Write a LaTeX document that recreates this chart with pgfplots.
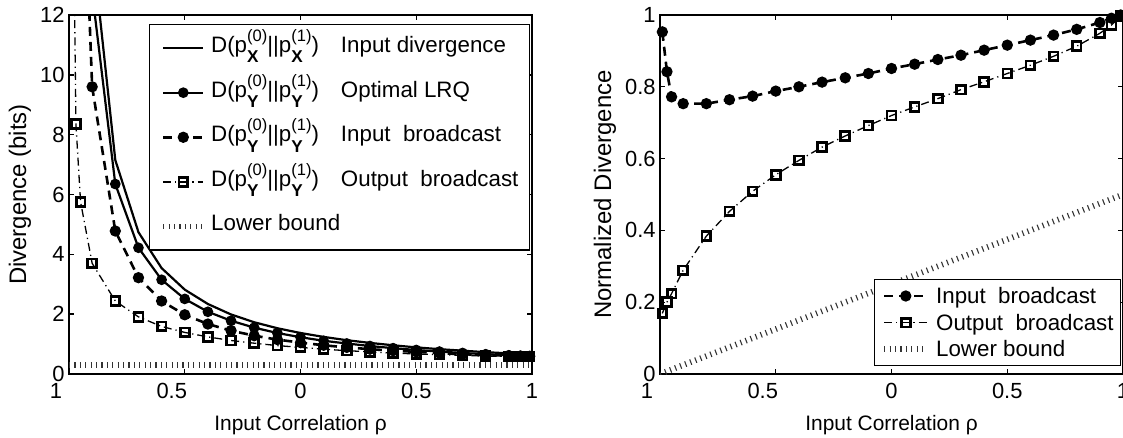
\documentclass[border=0pt]{standalone}
\usepackage{fontspec}
\setmainfont{Liberation Sans}
\usepackage{pgfplots}
\usepackage{pgfplotstable}
\pgfplotsset{compat=1.18}

\newcommand{\supsub}[2]{\rlap{\raisebox{-5.2bp}{\fontsize{8.6}{8.6}\selectfont\bfseries #2}}\raisebox{5.5bp}{\fontsize{8.3}{8.3}\selectfont #1}}

\pgfplotstableread{
x y
-0.99 144.3
-0.97 48.06
-0.95 28.81
-0.9 14.37
-0.8 7.15
-0.7 4.74
-0.6 3.54
-0.5 2.82
-0.4 2.34
-0.3 1.99
-0.2 1.73
-0.1 1.53
0 1.37
0.1 1.24
0.2 1.13
0.3 1.04
0.4 0.96
0.5 0.89
0.6 0.83
0.7 0.78
0.8 0.73
0.9 0.69
0.95 0.67
0.99 0.65
}\tinput

\pgfplotstableread{
x y
-0.99 127.95
-0.97 42.62
-0.95 25.55
-0.9 12.75
-0.8 6.35
-0.7 4.22
-0.6 3.15
-0.5 2.51
-0.4 2.08
-0.3 1.78
-0.2 1.55
-0.1 1.37
0 1.23
0.1 1.11
0.2 1.02
0.3 0.935
0.4 0.864
0.5 0.803
0.6 0.75
0.7 0.703
0.8 0.661
0.9 0.624
0.95 0.606
0.99 0.593
}\tlrq

\pgfplotstableread{
x y
-0.99 121.9
-0.97 35.9
-0.95 19.72
-0.9 9.60
-0.8 4.78
-0.7 3.22
-0.6 2.44
-0.5 1.98
-0.4 1.67
-0.3 1.45
-0.2 1.28
-0.1 1.15
0 1.05
0.1 0.96
0.2 0.89
0.3 0.83
0.4 0.78
0.5 0.74
0.6 0.70
0.7 0.66
0.8 0.635
0.9 0.611
0.95 0.601
0.99 0.593
}\tib

\pgfplotstableread{
x y
-0.99 21.6
-0.97 8.35
-0.95 5.75
-0.9 3.70
-0.8 2.44
-0.7 1.91
-0.6 1.59
-0.5 1.39
-0.4 1.24
-0.3 1.12
-0.2 1.03
-0.1 0.95
0 0.89
0.1 0.83
0.2 0.78
0.3 0.74
0.4 0.70
0.5 0.67
0.6 0.645
0.7 0.62
0.8 0.60
0.9 0.59
0.95 0.589
0.99 0.59
}\tob

\pgfplotstableread{
x y
-0.99 0.953
-0.97 0.842
-0.95 0.772
-0.9 0.753
-0.8 0.753
-0.7 0.764
-0.6 0.774
-0.5 0.788
-0.4 0.800
-0.3 0.813
-0.2 0.825
-0.1 0.837
0 0.851
0.1 0.863
0.2 0.876
0.3 0.888
0.4 0.902
0.5 0.916
0.6 0.930
0.7 0.944
0.8 0.960
0.9 0.979
0.95 0.991
0.99 1.0
}\tnib

\pgfplotstableread{
x y
-0.99 0.169
-0.97 0.200
-0.95 0.224
-0.9 0.289
-0.8 0.384
-0.7 0.453
-0.6 0.509
-0.5 0.555
-0.4 0.595
-0.3 0.632
-0.2 0.663
-0.1 0.692
0 0.720
0.1 0.744
0.2 0.767
0.3 0.792
0.4 0.814
0.5 0.837
0.6 0.860
0.7 0.885
0.8 0.913
0.9 0.949
0.95 0.972
0.99 0.997
}\tnob

\pgfplotsset{
  sInput/.style={black, line width=1.1bp, solid},
  sLRQ/.style={black, line width=1.1bp, solid, mark=*, mark size=2.1bp, mark options={solid}},
  sIB/.style={black, line width=1.3bp, dash pattern=on 4.5bp off 3bp, mark=*, mark size=2.15bp, mark options={solid}},
  sOB/.style={black, line width=0.65bp, dash pattern=on 4bp off 2bp on 0.6bp off 2bp, mark=square, mark size=2.2bp, mark options={solid, line width=1.35bp}},
  sLB/.style={black!80, line width=2.9bp, dash pattern=on 0.55bp off 2.15bp},
  common/.style={
    scale only axis, width=231.5bp, height=179.5bp,
    xmin=-1, xmax=1,
    xtick={-1,-0.5,0,0.5,1},
    xticklabels={1\hspace*{13bp},0.5\hspace*{13bp},0,0.5,1},
    tick align=inside, major tick length=2.5bp,
    axis line style={line width=0.9bp},
    tick style={line width=0.7bp, black},
    ticklabel style={font=\fontsize{11}{13}\selectfont},
    /pgf/number format/assume math mode=true,
    xticklabel style={inner sep=0pt, yshift=-4.5bp},
    yticklabel style={inner sep=0pt, xshift=-2bp},
    xlabel={Input Correlation ρ},
    xlabel style={at={(axis description cs:0.5,-0.156)}, anchor=base, font=\fontsize{10.5}{12}\selectfont},
    legend cell align=left,
  },
}

\begin{document}
\begin{tikzpicture}[x=1bp,y=1bp]
\begin{axis}[common,
  at={(34.5bp,31.5bp)}, anchor=south west,
  ymin=0, ymax=12, ytick={0,2,4,6,8,10,12},
  ylabel={Divergence (bits)},
  ylabel style={at={(axis description cs:-0.1058,0.5)}, anchor=center, font=\fontsize{12}{14}\selectfont},
  legend image code/.code={\draw[mark repeat=2,mark phase=2,#1] plot coordinates {(0bp,0bp)(10bp,0bp)(20bp,0bp)};},
  legend style={at={(axis description cs:0.9957,0.975)}, anchor=north east,
    draw=black, line width=0.6bp, fill=white,
    font=\fontsize{11.2}{13}\selectfont,
    inner xsep=5.5bp, inner ysep=3bp, row sep=4.8bp, column sep=2.5bp,
    nodes={text height=11bp, text depth=6.5bp, inner sep=0pt}},
]
\addplot[sLB, forget plot] coordinates {(-1,0.29) (1,0.29)};
\addplot[sInput, forget plot] table {\tinput};
\addplot[sLRQ, no markers, forget plot] table {\tlrq};
\addplot[sIB, no markers, forget plot] table {\tib};
\addplot[sOB, no markers, forget plot] table {\tob};
\addplot[sLRQ, only marks, restrict y to domain=0:12, forget plot] table {\tlrq};
\addplot[sIB, only marks, restrict y to domain=0:12, forget plot] table {\tib};
\addplot[sOB, only marks, restrict y to domain=0:12, forget plot] table {\tob};
\addlegendimage{sInput}
\addlegendentry{D(p\supsub{(0)}{X}||p\supsub{(1)}{X})\hspace{11bp}Input divergence}
\addlegendimage{sLRQ}
\addlegendentry{D(p\supsub{(0)}{Y}||p\supsub{(1)}{Y})\hspace{11bp}Optimal LRQ}
\addlegendimage{sIB}
\addlegendentry{D(p\supsub{(0)}{Y}||p\supsub{(1)}{Y})\hspace{11bp}Input\ \ broadcast}
\addlegendimage{sOB}
\addlegendentry{D(p\supsub{(0)}{Y}||p\supsub{(1)}{Y})\hspace{11bp}Output\ \ broadcast}
\addlegendimage{sLB}
\addlegendentry{Lower bound}
\end{axis}

\begin{axis}[common,
  at={(330bp,31.5bp)}, anchor=south west,
  ymin=0, ymax=1, ytick={0,0.2,0.4,0.6,0.8,1},
  ylabel={Normalized Divergence},
  ylabel style={at={(axis description cs:-0.1188,0.5)}, anchor=center, font=\fontsize{12}{14}\selectfont},
  legend image code/.code={\draw[mark repeat=2,mark phase=2,#1] plot coordinates {(0bp,0bp)(10.75bp,0bp)(21.5bp,0bp)};},
  legend style={at={(axis description cs:0.996,0.022)}, anchor=south east,
    draw=black, line width=0.6bp, fill=white,
    font=\fontsize{11.2}{13}\selectfont,
    inner xsep=3.5bp, inner ysep=1.5bp, row sep=0bp, column sep=3bp,
    nodes={text height=10.5bp, text depth=2.8bp, inner sep=0pt}},
]
\addplot[sLB, forget plot] coordinates {(-1,0) (1,0.5)};
\addplot[sIB, forget plot] table {\tnib};
\addplot[sOB, forget plot] table {\tnob};
\addlegendimage{sIB}
\addlegendentry{Input\ \ broadcast}
\addlegendimage{sOB}
\addlegendentry{Output\ \ broadcast}
\addlegendimage{sLB}
\addlegendentry{Lower bound}
\end{axis}
\pgfresetboundingbox
\useasboundingbox (0,0) rectangle (561.5,218.5);
\end{tikzpicture}
\end{document}
